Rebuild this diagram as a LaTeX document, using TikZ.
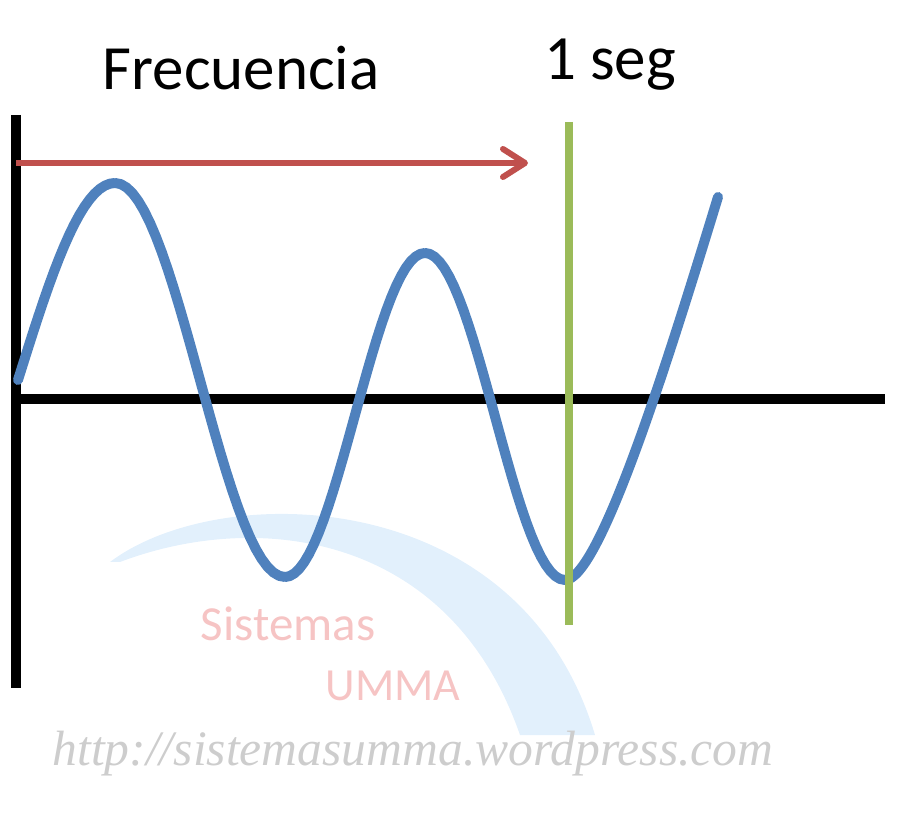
\documentclass[tikz,border=0pt]{standalone}
\usepackage{fontspec}
\setmainfont{Carlito}
\newfontfamily\urlfont{Liberation Serif}
\usetikzlibrary{arrows.meta}
\definecolor{wave}{RGB}{79,129,189}
\definecolor{arrowred}{RGB}{192,80,77}
\definecolor{secgreen}{RGB}{155,187,89}
\definecolor{wmpink}{RGB}{246,196,196}
\definecolor{wmgray}{RGB}{205,205,205}
\definecolor{wmblue}{RGB}{226,240,252}

\begin{document}
\begin{tikzpicture}[x=0.5pt,y=0.5pt,
    axis/.style={line width=5pt,black},
    signal/.style={line width=5pt,wave,line cap=round,line join=round},
    label/.style={font=\fontsize{31.5}{32}\selectfont,anchor=base,inner sep=0},
    mark text/.style={label,text=wmpink,font=\fontsize{24.5}{25}\selectfont}]
      \useasboundingbox (0,0) rectangle (898,824);
      % watermark
      \fill[wmblue] (110,262) .. controls (220,345) and (520,340) .. (595,89)
        -- (520,89) .. controls (450,290) and (260,315) .. (120,262) -- cycle;
      \node[mark text] (wmA) at (288,184) {Sistemas};
      \node[mark text,font=\fontsize{23}{24}\selectfont] (wmB) at (393,124) {UMMA};
      \node[label,text=wmgray,font=\urlfont\itshape\fontsize{24.8}{25}\selectfont] (url) at (413,59) {http://sistemasumma.wordpress.com};
      % labels
      \node[label] (freq) at (241,734) {Frecuencia};
      \node[label] (seg) at (610,744) {1 seg};
      % axes
      \coordinate (top) at (16,709);
      \coordinate (bot) at (16,136);
      \coordinate (o) at (16,425);
      \coordinate (right) at (885,425);
      \draw[axis] (top) -- (bot);
      \draw[axis] (o) -- (right);
      % wave
      \draw[signal] plot[domain=18:115,samples=20] (\x,{444+197*sin((\x-18)/97*90)})
        -- plot[domain=115:285,samples=30] (\x,{444+197*cos((\x-115)/170*180)})
        -- plot[domain=285:425,samples=30] (\x,{409-162*cos((\x-285)/140*180)})
        -- plot[domain=425:565,samples=30] (\x,{407.5+163.5*cos((\x-425)/140*180)})
        .. controls (600,244) and (670,470) .. (718,627);
      % one second
      \coordinate (s1) at (569,702);
      \coordinate (s2) at (569,199);
      \draw[secgreen,line width=4pt] (s1) -- (s2);
      \coordinate (a1) at (16,661);
      \coordinate (a2) at (528,661);
      \draw[arrowred,line width=3pt,-{Straight Barb[length=11pt,width=14pt,line join=round,line cap=round]}] (a1) -- (a2);
    \end{tikzpicture}
\end{document}
